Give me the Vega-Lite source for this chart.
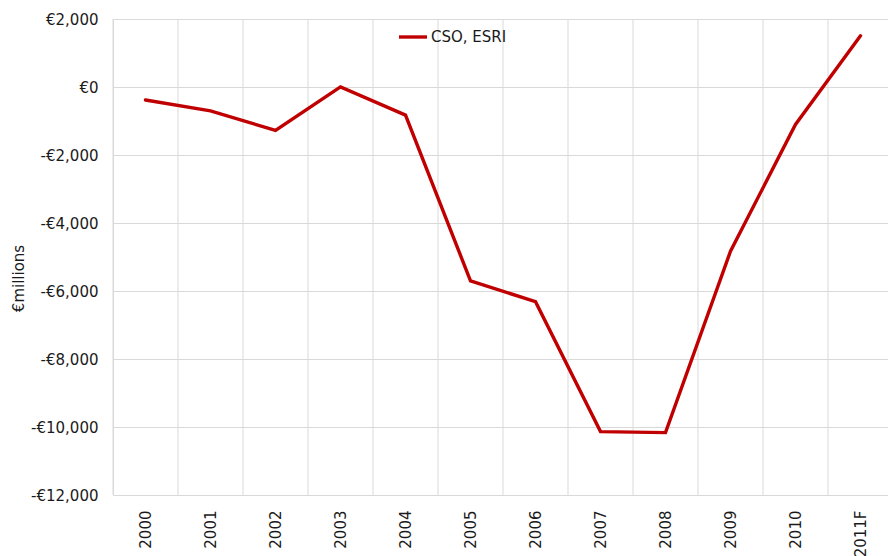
{
  "$schema": "https://vega.github.io/schema/vega-lite/v6.json",
  "autosize": {"type": "none"},
  "padding": {"left": 113, "top": 19, "right": 0, "bottom": 61},
  "width": 775,
  "height": 476,
  "background": "white",
  "config": {
    "view": {"stroke": null},
    "font": "DejaVu Sans"
  },
  "data": {
    "values": [
      {"year": "2000", "value": -383, "series": "CSO, ESRI"},
      {"year": "2001", "value": -700, "series": "CSO, ESRI"},
      {"year": "2002", "value": -1277, "series": "CSO, ESRI"},
      {"year": "2003", "value": 5, "series": "CSO, ESRI"},
      {"year": "2004", "value": -826, "series": "CSO, ESRI"},
      {"year": "2005", "value": -5702, "series": "CSO, ESRI"},
      {"year": "2006", "value": -6313, "series": "CSO, ESRI"},
      {"year": "2007", "value": -10136, "series": "CSO, ESRI"},
      {"year": "2008", "value": -10165, "series": "CSO, ESRI"},
      {"year": "2009", "value": -4830, "series": "CSO, ESRI"},
      {"year": "2010", "value": -1100, "series": "CSO, ESRI"},
      {"year": "2011F", "value": 1504, "series": "CSO, ESRI"}
    ]
  },
  "encoding": {
    "x": {
      "field": "year",
      "type": "nominal",
      "sort": null,
      "scale": {"type": "band", "range": [0, 780], "paddingInner": 0, "paddingOuter": 0},
      "axis": {
        "title": null,
        "labelAngle": 270,
        "labelAlign": "right",
        "labelBaseline": "middle",
        "labelPadding": 15,
        "labelFontSize": 15,
        "labelColor": "#1a1a1a",
        "ticks": false,
        "domainColor": "#d9d9d9",
        "grid": false
      }
    }
  },
  "layer": [
    {
      "mark": {"type": "rule", "color": "#d9d9d9", "strokeWidth": 1},
      "encoding": {
        "x": {"field": "year", "type": "nominal", "sort": null, "bandPosition": 0}
      }
    },
    {
      "mark": {"type": "line", "strokeWidth": 3.4, "strokeJoin": "miter", "strokeCap": "round"},
      "encoding": {
        "x": {"field": "year", "type": "nominal", "sort": null},
        "y": {
          "field": "value",
          "type": "quantitative",
          "scale": {"domain": [-12000, 2000], "nice": false, "zero": false},
          "axis": {
            "title": "€millions",
            "titleFontSize": 15,
            "titleFontWeight": "normal",
            "titleColor": "#1a1a1a",
            "titlePadding": 4,
            "titleY": 259,
            "values": [-12000, -10000, -8000, -6000, -4000, -2000, 0, 2000],
            "labelExpr": "datum.value < 0 ? '-€' + format(-datum.value, ',') : '€' + format(datum.value, ',')",
            "labelFontSize": 15,
            "labelColor": "#1a1a1a",
            "labelPadding": 15,
            "ticks": false,
            "domainColor": "#d9d9d9",
            "gridColor": "#d9d9d9"
          }
        },
        "color": {
          "field": "series",
          "type": "nominal",
          "scale": {"range": ["#c00000"]},
          "legend": {
            "title": null,
            "orient": "none",
            "legendX": 284,
            "legendY": 2,
            "symbolType": "stroke",
            "symbolSize": 784,
            "symbolStrokeWidth": 3.4,
            "labelFontSize": 15,
            "labelColor": "#1a1a1a",
            "labelOffset": 2
          }
        }
      }
    },
    {
      "mark": {"type": "rule", "color": "black", "strokeWidth": 1.8},
      "encoding": {
        "y": {"datum": 0, "type": "quantitative"}
      }
    }
  ]
}
